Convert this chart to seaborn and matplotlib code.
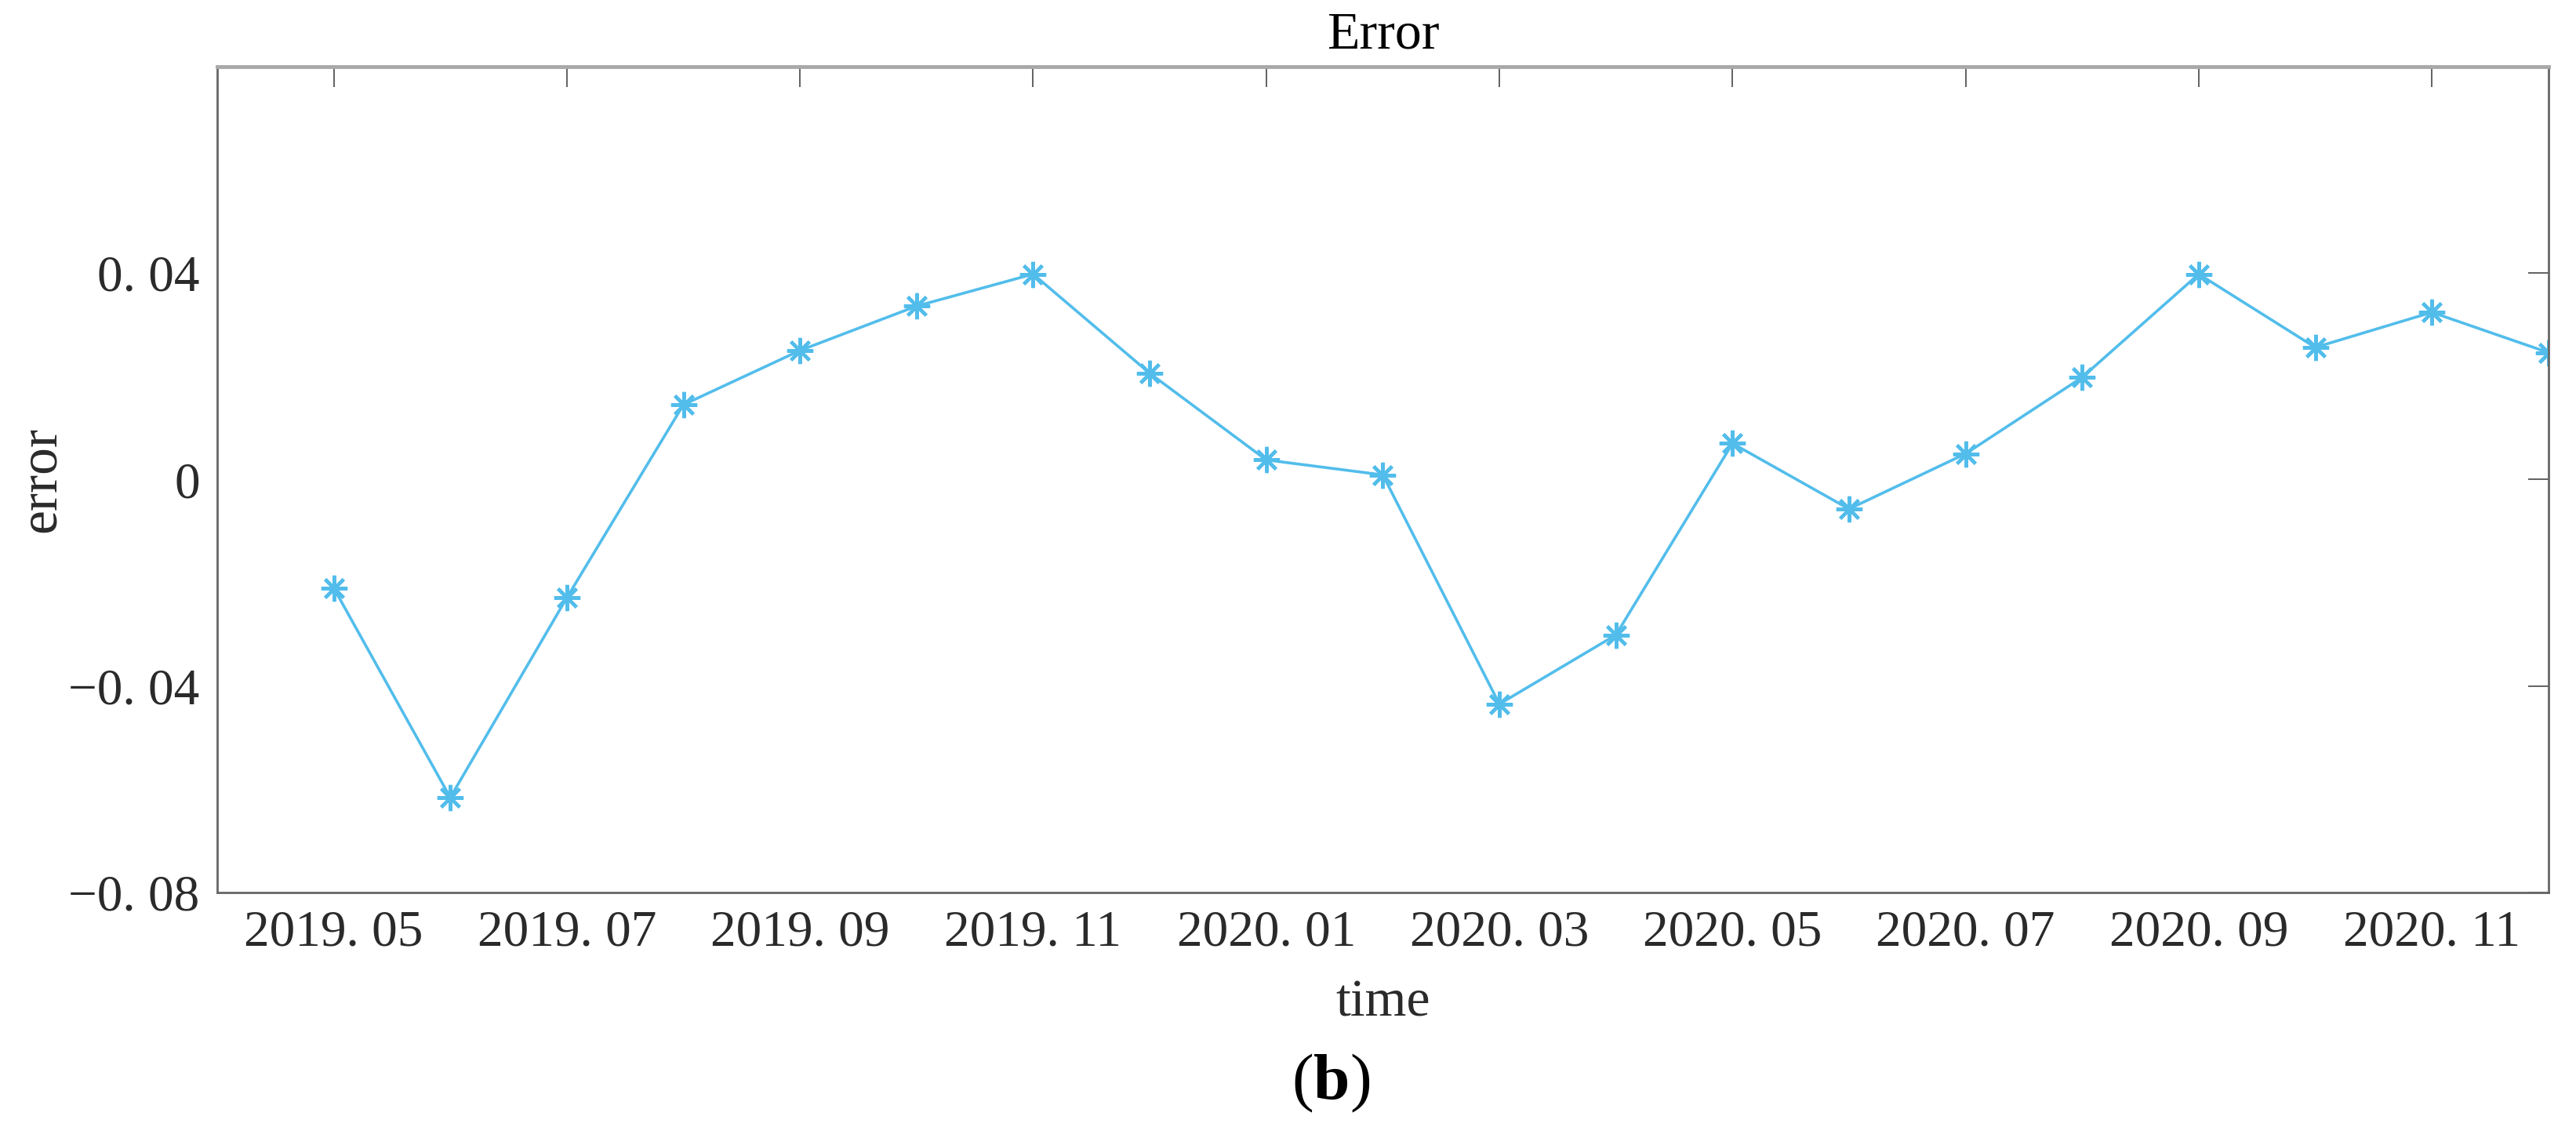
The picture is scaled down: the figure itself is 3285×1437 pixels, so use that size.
import numpy as np
import pandas as pd
import matplotlib
matplotlib.use("Agg")
import matplotlib.pyplot as plt
import seaborn as sns

# monthly error values
months = ["2019.05", "2019.06", "2019.07", "2019.08", "2019.09", "2019.10",
          "2019.11", "2019.12", "2020.01", "2020.02", "2020.03", "2020.04",
          "2020.05", "2020.06", "2020.07", "2020.08", "2020.09", "2020.10",
          "2020.11", "2020.12"]
errors = [-0.0210, -0.0616, -0.0229, 0.0145, 0.0250, 0.0336, 0.0398, 0.0206,
          0.0038, 0.0009, -0.0435, -0.0301, 0.0070, -0.0057, 0.0050, 0.0198,
          0.0398, 0.0256, 0.0324, 0.0246]

x_tick_labels = ["2019. 05", "2019. 07", "2019. 09", "2019. 11", "2020. 01",
                 "2020. 03", "2020. 05", "2020. 07", "2020. 09", "2020. 11"]
y_ticks = [-0.08, -0.04, 0, 0.04]
y_tick_labels = ["\u22120. 08", "\u22120. 04", "0", "0. 04"]

df = pd.DataFrame({"time": months, "error": errors})
df["idx"] = np.arange(len(df))

sns.set_theme(style="white")
plt.rcParams["font.family"] = ["Liberation Serif", "DejaVu Serif"]
plt.rcParams["mathtext.fontset"] = "custom"
plt.rcParams["mathtext.rm"] = "Liberation Serif"
plt.rcParams["mathtext.bf"] = "Liberation Serif:bold"

line_color = "#52BDEB"

fig = plt.figure(figsize=(32.85, 14.37), dpi=100)
ax = fig.add_axes([0.0843, 0.2081, 0.9050, 0.7328])

sns.lineplot(
    data=df, x="idx", y="error", ax=ax,
    color=line_color, linewidth=2.6,
    marker=(8, 2, 0), markersize=24,
    markeredgecolor=line_color, markeredgewidth=3,
)

ax.set_xlim(-1, 19)
ax.set_ylim(-0.08, 0.08)
ax.set_xticks(df["idx"].values[::2])
ax.set_xticklabels(x_tick_labels)
ax.set_yticks(y_ticks)
ax.set_yticklabels(y_tick_labels)

ax.tick_params(axis="both", which="major", direction="in", length=19,
               width=1.3, color="#555555", labelsize=47, labelcolor="#2a2a2a",
               pad=16, top=True, right=True)

for side in ["left", "right", "bottom"]:
    ax.spines[side].set_color("#666666")
    ax.spines[side].set_linewidth(2)
ax.spines["top"].set_color("#a8a8a8")
ax.spines["top"].set_linewidth(3.5)

ax.set_title("Error", fontsize=49, color="black", pad=17)
ax.set_xlabel("time", fontsize=49, color="#2a2a2a")
ax.set_ylabel("error", fontsize=50, color="#2a2a2a")
ax.xaxis.set_label_coords(0.5, -0.105)
ax.yaxis.set_label_coords(-0.0645, 0.5)

fig.text(0.5166, 0.039, r"($\mathbf{b}$)", fontsize=60, ha="center",
         va="center", color="black")

fig.savefig("out.png", dpi=100)
